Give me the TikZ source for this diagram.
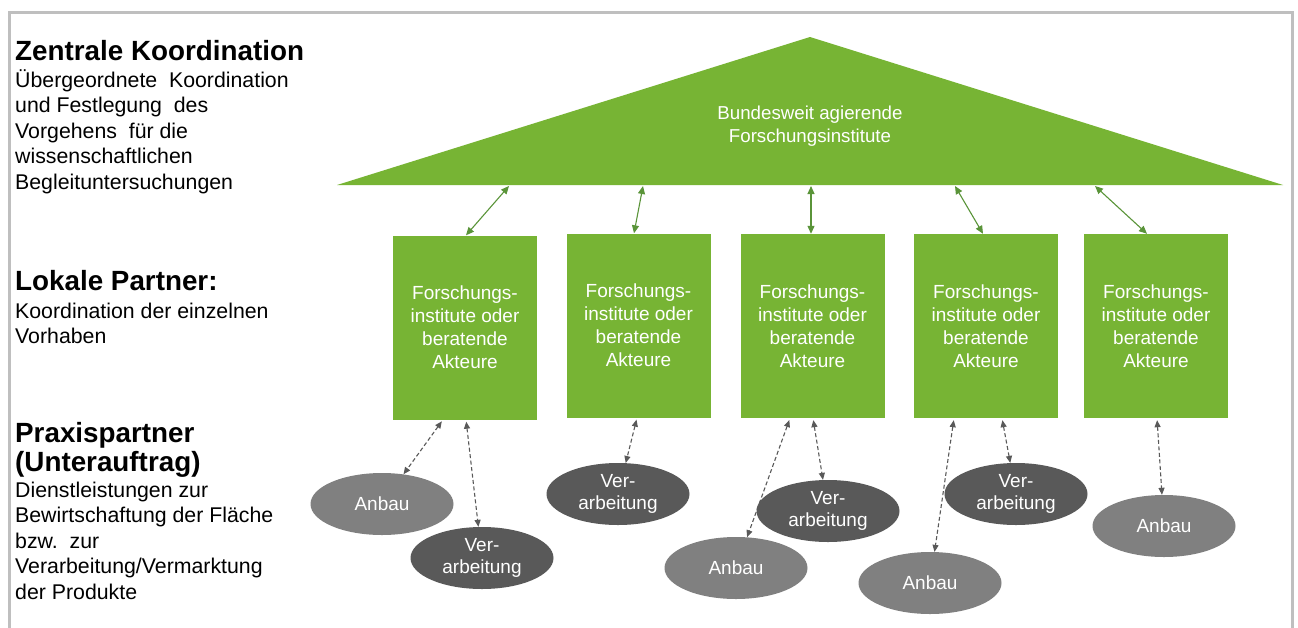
\documentclass[tikz,border=0pt]{standalone}
\usepackage{fontspec}
\setmainfont{Liberation Sans}
\usetikzlibrary{shapes.geometric,arrows.meta}
\definecolor{lgreen}{HTML}{77B434}
\definecolor{agreen}{HTML}{5A9439}
\definecolor{dgrey}{HTML}{595959}
\definecolor{mgrey}{HTML}{808080}
\definecolor{framegrey}{HTML}{BFBFBF}
\begin{document}
\begin{tikzpicture}[x=1pt,y=-1pt,
 box/.style={fill=lgreen, minimum width=144pt, minimum height=184pt, inner sep=0pt, text=white, align=center, font=\fontsize{19}{23}\selectfont},
 ell/.style={ellipse, minimum width=143pt, minimum height=62pt, inner sep=0pt, text=white, align=center, font=\fontsize{19}{22}\selectfont},
 anb/.style={ell, fill=mgrey},
 ver/.style={ell, fill=dgrey},
 garrow/.style={agreen, line width=1.1pt, {Triangle[length=8pt,width=7pt]}-{Triangle[length=8pt,width=7pt]}},
 darrow/.style={dgrey, line width=1.1pt, dash pattern=on 4pt off 2.5pt, {Triangle[length=7pt,width=6pt]}-{Triangle[length=7pt,width=6pt]}, shorten <=2pt},
 head/.style={anchor=base west, inner sep=0pt, font=\fontsize{27.8}{30}\selectfont\bfseries},
 body/.style={anchor=base west, inner sep=0pt, font=\fontsize{21.3}{25}\selectfont},
]
\useasboundingbox (0,0) rectangle (1298,627);
\fill[white] (0,0) rectangle (1298,627);
% frame
\draw[framegrey, line width=3pt] (9,640) -- (9,12.5) -- (1292.5,12.5) -- (1292.5,640);

% roof
\fill[lgreen] (337,185) -- (810,37) -- (1283,185) -- cycle;
\node[text=white, align=center, inner sep=0pt, font=\fontsize{18.7}{23}\selectfont] (roof) at (810,126) {Bundesweit agierende\\Forschungsinstitute};
\coordinate (t1) at (509,186);
\coordinate (t2) at (643,186);
\coordinate (t3) at (811,186);
\coordinate (t4) at (955,186);
\coordinate (t5) at (1095,186);

% boxes
\node[box] (b1) at (465,327.5) {Forschungs-\\institute oder\\beratende\\Akteure};
\node[box] (b2) at (638.5,325.5) {Forschungs-\\institute oder\\beratende\\Akteure};
\node[box] (b3) at (812.5,326) {Forschungs-\\institute oder\\beratende\\Akteure};
\node[box] (b4) at (986,326) {Forschungs-\\institute oder\\beratende\\Akteure};
\node[box] (b5) at (1156,326) {Forschungs-\\institute oder\\beratende\\Akteure};

% green arrows
\draw[garrow] (t1) -- ([xshift=1pt]b1.north);
\draw[garrow] (t2) -- ([xshift=-4.5pt]b2.north);
\draw[garrow] (t3) -- ([xshift=-1.5pt]b3.north);
\draw[garrow] (t4) -- ([xshift=-3pt]b4.north);
\draw[garrow] (t5) -- ([xshift=-9pt]b5.north);

% ellipses
\node[anb] (a1) at (382,504) {Anbau};
\node[ver] (v1) at (482,558) {Ver-\\arbeitung};
\node[ver] (v2) at (618,494) {Ver-\\arbeitung};
\node[anb] (a2) at (736,568) {Anbau};
\node[ver] (v3) at (828,511) {Ver-\\arbeitung};
\node[anb] (a3) at (930,583) {Anbau};
\node[ver] (v4) at (1016,494) {Ver-\\arbeitung};
\node[anb] (a4) at (1164,526) {Anbau};

% dashed arrows
\draw[darrow] ([xshift=-22pt]b1.south) -- (a1);
\draw[darrow] ([xshift=1pt]b1.south) -- (v1);
\draw[darrow] ([xshift=-1.5pt]b2.south) -- (v2);
\draw[darrow] ([xshift=-22.5pt]b3.south) -- (a2);
\draw[darrow] ([xshift=0.5pt]b3.south) -- (v3);
\draw[darrow] ([xshift=-32pt]b4.south) -- (a3);
\draw[darrow] ([xshift=16pt]b4.south) -- (v4);
\draw[darrow] ([xshift=1pt]b5.south) -- (a4);

% left texts
\node[head] (h1) at (15,60) {Zentrale Koordination};
\node[body] (z1) at (15,87) {Übergeordnete\ \ Koordination};
\node[body] (z2) at (15,112.5) {und\ Festlegung\ \ des};
\node[body] (z3) at (15,138) {Vorgehens\ \ für die};
\node[body] (z4) at (15,163.5) {wissenschaftlichen};
\node[body] (z5) at (15,189) {Begleituntersuchungen};

\node[head] (h2) at (15,290) {Lokale Partner:};
\node[body] (k1) at (15,318) {Koordination der einzelnen};
\node[body] (k2) at (15,343) {Vorhaben};

\node[head] (h3) at (15,442) {Praxispartner};
\node[head] (h4) at (15,471) {(Unterauftrag)};
\node[body] (p1) at (15,497) {Dienstleistungen\ zur};
\node[body] (p2) at (15,522.5) {Bewirtschaftung\ der Fläche};
\node[body] (p3) at (15,548) {bzw.\ \ zur};
\node[body] (p4) at (15,573.5) {Verarbeitung/Vermarktung};
\node[body] (p5) at (15,599) {der Produkte};
\end{tikzpicture}
\end{document}
